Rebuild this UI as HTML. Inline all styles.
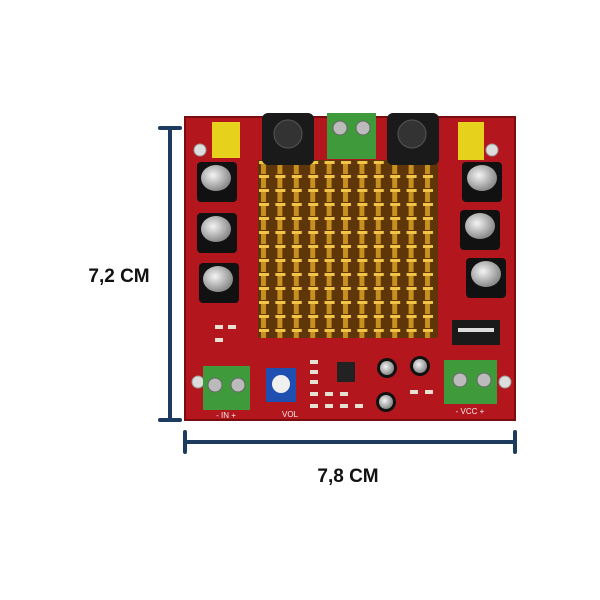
<!DOCTYPE html>
<html><head><meta charset="utf-8"><style>
html,body{margin:0;padding:0;background:#fff;}
svg{display:block}
</style></head><body>
<svg width="600" height="600" viewBox="0 0 600 600" xmlns="http://www.w3.org/2000/svg">
<defs>
<radialGradient id="capTop" cx="0.4" cy="0.4" r="0.6">
<stop offset="0" stop-color="#f4f4f4"/><stop offset="1" stop-color="#8a8a8a"/>
</radialGradient>
<pattern id="fins" x="258" y="160" width="16.4" height="14" patternUnits="userSpaceOnUse">
<rect width="16.4" height="14" fill="#5e3608"/>
<rect x="3" y="2" width="5" height="12" fill="#c8901e"/>
<rect x="1" y="1" width="10" height="3" fill="#f2c448"/>
</pattern>
</defs>
<rect width="600" height="600" fill="#fff"/>
<rect x="185" y="117" width="330" height="303" fill="#b3161c"/>
<rect x="185" y="117" width="330" height="303" fill="none" stroke="#7a0c10" stroke-width="2"/>
<circle cx="200" cy="150" r="6" fill="#ddd" stroke="#999"/>
<circle cx="492" cy="150" r="6" fill="#ddd" stroke="#999"/>
<circle cx="198" cy="382" r="6" fill="#ddd" stroke="#999"/>
<circle cx="505" cy="382" r="6" fill="#ddd" stroke="#999"/>
<rect x="258" y="160" width="180" height="178" fill="url(#fins)"/>
<rect x="262" y="113" width="52" height="52" rx="6" fill="#1a1a1a"/>
<circle cx="288" cy="134" r="14" fill="#333" stroke="#555"/>
<rect x="387" y="113" width="52" height="52" rx="6" fill="#1a1a1a"/>
<circle cx="412" cy="134" r="14" fill="#333" stroke="#555"/>
<rect x="327" y="113" width="49" height="46" fill="#3f9a3c"/>
<circle cx="340" cy="128" r="7" fill="#bbb" stroke="#666"/>
<circle cx="363" cy="128" r="7" fill="#bbb" stroke="#666"/>
<rect x="212" y="122" width="28" height="36" fill="#e6d21c"/>
<rect x="458" y="122" width="26" height="38" fill="#e6d21c"/>
<g>
<rect x="197" y="162" width="40" height="40" rx="4" fill="#111"/><ellipse cx="216" cy="178" rx="15" ry="13" fill="url(#capTop)"/>
<rect x="197" y="213" width="40" height="40" rx="4" fill="#111"/><ellipse cx="216" cy="229" rx="15" ry="13" fill="url(#capTop)"/>
<rect x="199" y="263" width="40" height="40" rx="4" fill="#111"/><ellipse cx="218" cy="279" rx="15" ry="13" fill="url(#capTop)"/>
<rect x="462" y="162" width="40" height="40" rx="4" fill="#111"/><ellipse cx="482" cy="178" rx="15" ry="13" fill="url(#capTop)"/>
<rect x="460" y="210" width="40" height="40" rx="4" fill="#111"/><ellipse cx="480" cy="226" rx="15" ry="13" fill="url(#capTop)"/>
<rect x="466" y="258" width="40" height="40" rx="4" fill="#111"/><ellipse cx="486" cy="274" rx="15" ry="13" fill="url(#capTop)"/>
</g>
<rect x="452" y="320" width="48" height="25" fill="#1a1a1a"/>
<rect x="458" y="328" width="36" height="4" fill="#ddd"/>
<rect x="203" y="366" width="47" height="44" fill="#3f9a3c"/>
<circle cx="215" cy="385" r="7" fill="#bbb" stroke="#666"/>
<circle cx="238" cy="385" r="7" fill="#bbb" stroke="#666"/>
<rect x="444" y="360" width="53" height="44" fill="#3f9a3c"/>
<circle cx="460" cy="380" r="7" fill="#bbb" stroke="#666"/>
<circle cx="484" cy="380" r="7" fill="#bbb" stroke="#666"/>
<rect x="266" y="368" width="30" height="34" fill="#1f4fb0"/>
<circle cx="281" cy="384" r="9" fill="#f0f0f0"/>
<circle cx="387" cy="368" r="10" fill="#111"/><circle cx="387" cy="368" r="7" fill="url(#capTop)"/>
<circle cx="420" cy="366" r="10" fill="#111"/><circle cx="420" cy="366" r="7" fill="url(#capTop)"/>
<circle cx="386" cy="402" r="10" fill="#111"/><circle cx="386" cy="402" r="7" fill="url(#capTop)"/>
<rect x="337" y="362" width="18" height="20" fill="#222"/>
<g fill="#e8e0d0">
<rect x="310" y="360" width="8" height="4"/><rect x="310" y="370" width="8" height="4"/><rect x="310" y="380" width="8" height="4"/>
<rect x="310" y="392" width="8" height="4"/><rect x="325" y="392" width="8" height="4"/><rect x="340" y="392" width="8" height="4"/>
<rect x="310" y="404" width="8" height="4"/><rect x="325" y="404" width="8" height="4"/><rect x="340" y="404" width="8" height="4"/><rect x="355" y="404" width="8" height="4"/>
<rect x="215" y="325" width="8" height="4"/><rect x="228" y="325" width="8" height="4"/><rect x="215" y="338" width="8" height="4"/>
<rect x="410" y="390" width="8" height="4"/><rect x="425" y="390" width="8" height="4"/>
</g>
<text x="226" y="418" font-family="Liberation Sans, sans-serif" font-size="8" fill="#eee" text-anchor="middle">- IN +</text>
<text x="290" y="417" font-family="Liberation Sans, sans-serif" font-size="8" fill="#eee" text-anchor="middle">VOL</text>
<text x="470" y="414" font-family="Liberation Sans, sans-serif" font-size="8" fill="#eee" text-anchor="middle">- VCC +</text>
<g stroke="#1c3b5e" stroke-width="4" stroke-linecap="round">
<line x1="170" y1="128" x2="170" y2="420"/>
<line x1="160" y1="128" x2="180" y2="128"/>
<line x1="160" y1="420" x2="180" y2="420"/>
<line x1="185" y1="442" x2="515" y2="442"/>
<line x1="185" y1="432" x2="185" y2="452"/>
<line x1="515" y1="432" x2="515" y2="452"/>
</g>
<text x="119" y="282" font-family="Liberation Sans, sans-serif" font-size="19" font-weight="bold" fill="#111" text-anchor="middle">7,2 CM</text>
<text x="348" y="482" font-family="Liberation Sans, sans-serif" font-size="19" font-weight="bold" fill="#111" text-anchor="middle">7,8 CM</text>
</svg>
</body></html>
